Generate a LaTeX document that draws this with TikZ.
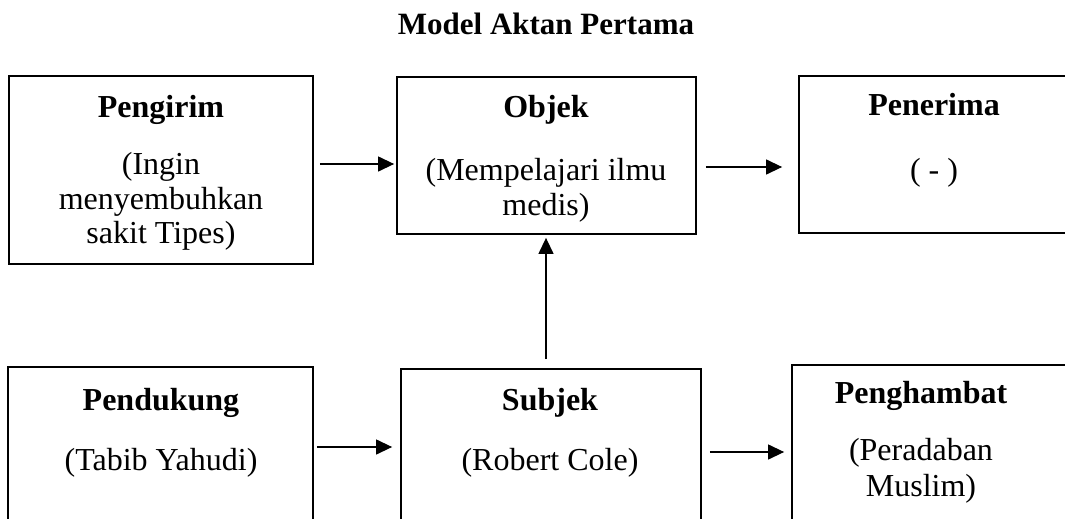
\documentclass[tikz,border=0pt]{standalone}
\usepackage{fontspec}
\setmainfont{Liberation Serif}
\usetikzlibrary{arrows.meta}
\begin{document}
\begin{tikzpicture}[x=1pt,y=-1pt,
  box/.style={draw=black, line width=1.8pt, rectangle, inner sep=0pt},
  head/.style={anchor=base, inner sep=0pt, font=\fontsize{32}{35}\selectfont\bfseries},
  body/.style={anchor=base, inner sep=0pt, font=\fontsize{32}{35}\selectfont},
  arr/.style={draw=black, line width=1.3pt, -{Triangle[length=16pt,width=15pt]}}]
\useasboundingbox (0,0) rectangle (1065,519);
\fill[white] (0,0) rectangle (1065,519);
\clip (0,0) rectangle (1065,519);

% title
\node[head, font=\fontsize{31}{35}\selectfont\bfseries] (title) at (546,35) {Model Aktan Pertama};

% upper row of boxes
\node[box, minimum width=304pt, minimum height=188pt] (pengirim) at (161,170) {};
\node[box, minimum width=299pt, minimum height=157pt] (objek) at (546.5,155.5) {};
\node[box, minimum width=301pt, minimum height=157pt] (penerima) at (949.5,154.5) {};

% lower row of boxes (running past the page edge)
\node[box, minimum width=305pt, minimum height=193pt] (pendukung) at (160.5,463.5) {};
\node[box, minimum width=300pt, minimum height=191pt] (subjek) at (551,464.5) {};
\node[box, minimum width=308pt, minimum height=195pt] (penghambat) at (946,462.5) {};

% box texts
\node[head] (tPengirim) at (161,117) {Pengirim};
\node[body] (dPengirimA) at (161,174) {(Ingin};
\node[body] (dPengirimB) at (161,209) {menyembuhkan};
\node[body] (dPengirimC) at (161,243) {sakit Tipes)};

\node[head] (tObjek) at (546,117) {Objek};
\node[body] (dObjekA) at (546,180) {(Mempelajari ilmu};
\node[body] (dObjekB) at (546,215) {medis)};

\node[head] (tPenerima) at (934,115) {Penerima};
\node[body] (dPenerima) at (934,180) {( - )};

\node[head] (tPendukung) at (161,410) {Pendukung};
\node[body] (dPendukung) at (161,470) {(Tabib Yahudi)};

\node[head] (tSubjek) at (550,410) {Subjek};
\node[body] (dSubjek) at (550,470) {(Robert Cole)};

\node[head] (tPenghambat) at (921,403) {Penghambat};
\node[body] (dPenghambatA) at (921,460) {(Peradaban};
\node[body] (dPenghambatB) at (921,496) {Muslim)};

% arrow heights
\coordinate (r1) at (0,164);
\coordinate (r2) at (0,167);
\coordinate (r4) at (0,447);
\coordinate (r5) at (0,452);
\coordinate (cUp) at (546,0);

% connectors
\draw[arr, shorten <=6pt, shorten >=2pt] (pengirim.east |- r1) -- (objek.west |- r1);
\draw[arr, shorten <=9pt, shorten >=16pt] (objek.east |- r2) -- (penerima.west |- r2);
\draw[arr, shorten <=9pt, shorten >=3pt] (cUp |- subjek.north) -- (cUp |- objek.south);
\draw[arr, shorten <=3pt, shorten >=8pt] (pendukung.east |- r4) -- (subjek.west |- r4);
\draw[arr, shorten <=8pt, shorten >=7pt] (subjek.east |- r5) -- (penghambat.west |- r5);
\end{tikzpicture}
\end{document}
